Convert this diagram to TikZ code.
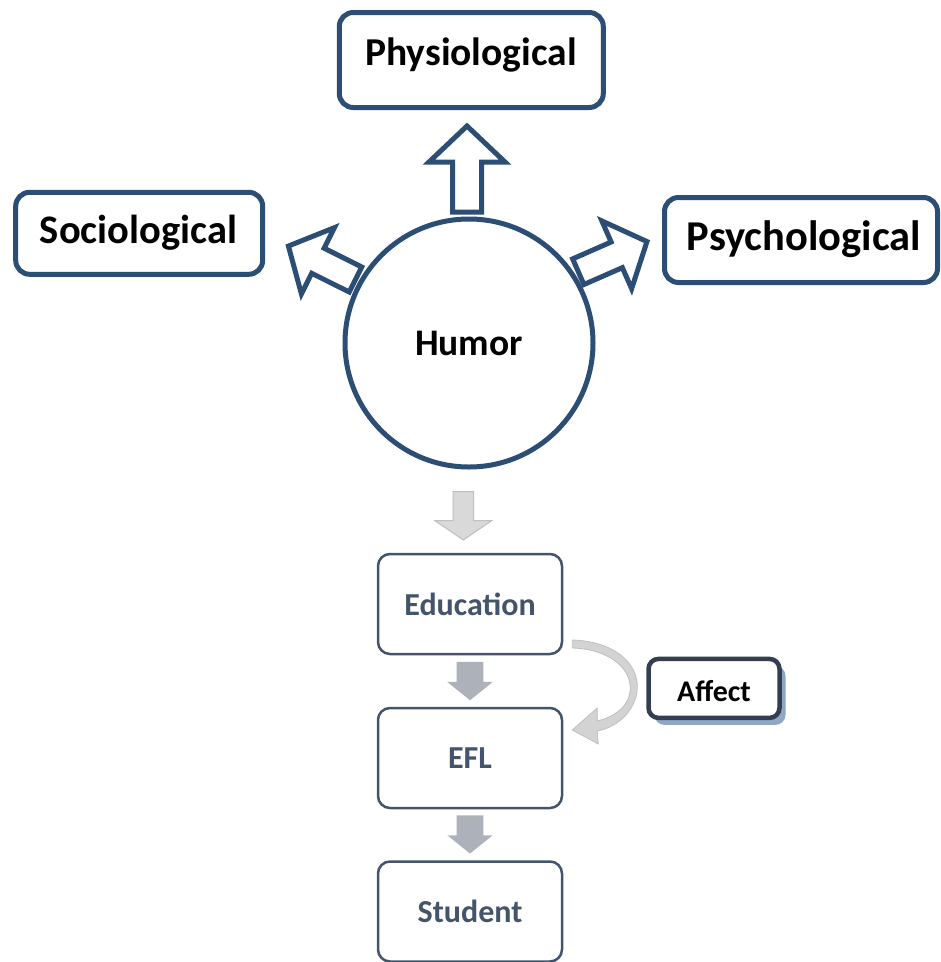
\documentclass[tikz,border=0pt]{standalone}
\usepackage{fontspec}
\setmainfont{Carlito}
\usetikzlibrary{shadows}
\definecolor{dblue}{HTML}{2C4D74}
\definecolor{sgray}{HTML}{44546A}
\definecolor{lgrayfill}{HTML}{D9D9D9}
\definecolor{lgraydraw}{HTML}{BFBFBF}
\definecolor{dgrayfill}{HTML}{ADB1B9}
\definecolor{affdraw}{HTML}{333F50}
\definecolor{affshadow}{HTML}{8FA6C4}
\definecolor{curvefill}{HTML}{D3D3D3}
\begin{document}
\begin{tikzpicture}[x=1pt,y=-1pt,
  topbox/.style={draw=dblue, line width=5pt, rounded corners=14pt, fill=white,
    inner sep=0pt, font=\bfseries},
  lowbox/.style={draw=sgray, line width=2.5pt, rounded corners=12pt, fill=white,
    inner sep=0pt, minimum width=184, minimum height=100, text=sgray,
    font=\fontsize{32}{34}\selectfont\bfseries},
  barrow/.style={draw=dblue, fill=white, line width=5pt, line join=miter},
  sidearrow/.pic={\draw[barrow] (0,-14) -- (42,-14) -- (42,-37) -- (75,0) -- (42,37) -- (42,14) -- (0,14) -- cycle;},
  uparrow/.pic={\draw[barrow] (0,-14.5) -- (50,-14.5) -- (50,-38) -- (86,0) -- (50,38) -- (50,14.5) -- (0,14.5) -- cycle;},
  lightdown/.pic={\filldraw[fill=lgrayfill, draw=lgraydraw, line width=1pt] (-10.3,0) -- (10.3,0) -- (10.3,29) -- (28.3,29) -- (0,48.3) -- (-28.3,29) -- (-10.3,29) -- cycle;},
  darkdown/.pic={\fill[dgrayfill] (-13.3,0) -- (13.3,0) -- (13.3,20) -- (22.7,20) -- (0,38.3) -- (-22.7,20) -- (-13.3,20) -- cycle;}
]
\useasboundingbox (0,0) rectangle (941,962);

% outer boxes
\node[topbox, minimum width=264, minimum height=95] (phys) at (471.3,60) {};
\node[font=\fontsize{39.5}{41}\selectfont\bfseries] (physt) at (471,55) {Physiological};
\node[topbox, minimum width=247, minimum height=82] (soc) at (139.2,233.3) {};
\node[font=\fontsize{40.5}{42}\selectfont\bfseries] (soct) at (138.5,233) {Sociological};
\node[topbox, minimum width=273, minimum height=85] (psy) at (801,240) {};
\node[font=\fontsize{42.5}{44}\selectfont\bfseries] (psyt) at (804,239) {Psychological};

% humor center coordinate
\coordinate (hc) at (469,343);

% block arrows from humor
\pic[rotate=90] at ([shift={(-2,-131)}]hc) {uparrow};
\pic[rotate=153.5] at ([shift={(-113.5,-63.5)}]hc) {sidearrow};
\pic[rotate=23.7] at ([shift={(109.3,-71.3)}]hc) {sidearrow};

\node[circle, draw=dblue, line width=5pt, fill=white, minimum size=248, inner sep=0pt,
  font=\fontsize{37.5}{39}\selectfont\bfseries] (humor) at (hc) {Humor};

% lower chain
\node[lowbox] (edu) at (470,604) {Education};
\node[lowbox] (efl) at (470,758) {EFL};
\node[lowbox] (stu) at (470,911.5) {Student};

\pic at ([shift={(-5.7,22.2)}]humor.south) {lightdown};
\pic at ([shift={(0,6.7)}]edu.south) {darkdown};
\pic at ([shift={(0,6)}]efl.south) {darkdown};

% curved arrow Education -> EFL
\begin{scope}[shift={(edu.east)}]
\filldraw[fill=curvefill, draw=lgraydraw, line width=0.8pt]
  (9,36) .. controls (49,37) and (75,58) .. (74,84)
  .. controls (73,106) and (55,123) .. (34,127)
  -- (35,140) -- (9,126) -- (34,104) -- (34,117)
  .. controls (51,113) and (67,102) .. (67,84)
  .. controls (67,62) and (43,45) .. (9,44) -- cycle;
\end{scope}

% Affect
\node[draw=affdraw, line width=4.5pt, rounded corners=10pt, fill=white, inner sep=0pt,
  minimum width=131, minimum height=59,
  drop shadow={shadow xshift=6pt, shadow yshift=-7pt, fill=affshadow, opacity=1}] (aff) at (714,688.4) {};
\node[font=\fontsize{30}{32}\selectfont\bfseries] (afft) at (714,691) {Affect};
\end{tikzpicture}
\end{document}
